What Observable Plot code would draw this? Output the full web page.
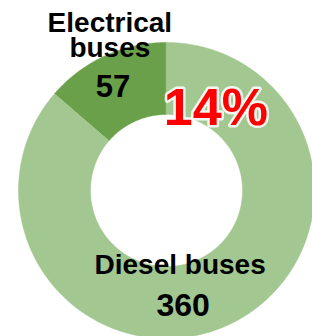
<!DOCTYPE html>
<html>
<head>
<meta charset="utf-8">
<script src="https://cdn.jsdelivr.net/npm/d3@7"></script>
<script src="https://cdn.jsdelivr.net/npm/@observablehq/plot@0.6"></script>
<style>
  html, body { margin: 0; padding: 0; background: #fff; }
  #chart { width: 312px; height: 336px; overflow: hidden; }
</style>
</head>
<body>
<div id="chart"></div>
<script>
const categories = ["Electrical buses", "Diesel buses"];
const values = [57, 360];
const displayNames = ["Electrical\nbuses", "Diesel buses"];
const shareLabel = "14%";
const colors = ["#6ba04a", "#a2c791"];

const total = d3.sum(values);
const start = -2 * Math.PI * values[0] / total;
const arcs = d3.pie().sort(null).startAngle(start).endAngle(start + 2 * Math.PI)(values);

const inner = 76 / 148, outer = 1;
// outline of each ring sector, in unit coordinates (angle 0 at 12 o'clock, clockwise)
const outline = [];
arcs.forEach((a, i) => {
  const n = Math.max(8, Math.ceil((a.endAngle - a.startAngle) / 0.01));
  for (let k = 0; k <= n; k++) {
    const t = a.startAngle + (a.endAngle - a.startAngle) * k / n;
    outline.push({name: categories[i], x: outer * Math.sin(t), y: outer * Math.cos(t)});
  }
  for (let k = n; k >= 0; k--) {
    const t = a.startAngle + (a.endAngle - a.startAngle) * k / n;
    outline.push({name: categories[i], x: inner * Math.sin(t), y: inner * Math.cos(t)});
  }
});
const rc = (inner + outer) / 2;
const labels = arcs.map((a, i) => {
  const m = (a.startAngle + a.endAngle) / 2;
  return {name: categories[i], display: displayNames[i], value: values[i], x: rc * Math.sin(m), y: rc * Math.cos(m)};
});

const font = "'Liberation Sans', Arial, Helvetica, sans-serif";
const chart = Plot.plot({
  width: 312,
  height: 336,
  margin: 0,
  x: {domain: [-166 / 148, 146 / 148], axis: null},
  y: {domain: [-146 / 148, 190 / 148], axis: null},
  color: {domain: categories, range: colors},
  style: {fontFamily: font, background: "#fff"},
  marks: [
    Plot.line(outline, {x: "x", y: "y", z: "name", fill: "name", stroke: "name", strokeWidth: 0.5, curve: "linear-closed"}),
    // Electrical label
    Plot.text([labels[0]], {x: "x", y: "y", text: "display", dx: -10, dy: -52, fontSize: 28, fontWeight: "bold", fill: "#000", lineHeight: 0.88}),
    Plot.text([labels[0]], {x: "x", y: "y", text: d => String(d.value), dx: -7, dy: -2, fontSize: 31, fontWeight: "bold", fill: "#000"}),
    // share
    Plot.text([labels[0]], {x: "x", y: "y", text: () => shareLabel, dx: 96, dy: 20, fontSize: 52, fontWeight: "bold", fill: "#ff0000", stroke: "#fff", strokeWidth: 5, strokeOpacity: 0.85, paintOrder: "stroke"}),
    // Diesel label
    Plot.text([labels[1]], {x: "x", y: "y", text: "display", dx: -33, dy: -27, fontSize: 28, fontWeight: "bold", fill: "#000"}),
    Plot.text([labels[1]], {x: "x", y: "y", text: d => String(d.value), dx: -30, dy: 13, fontSize: 32, fontWeight: "bold", fill: "#000"})
  ]
});
document.getElementById("chart").append(chart);
</script>
</body>
</html>
